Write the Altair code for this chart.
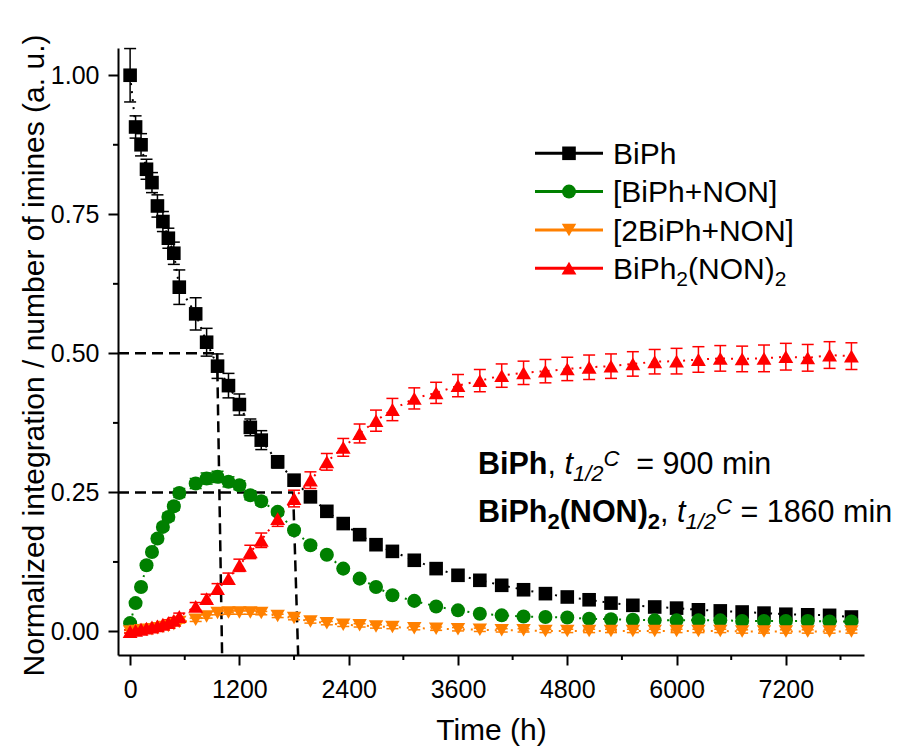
import altair as alt
import pandas as pd

# ---------------- data ----------------
times = [0, 60, 120, 180, 240, 300, 360, 420, 480, 540,
         720, 840, 960, 1080, 1200, 1320, 1440,
         1620, 1800, 1980, 2160, 2340, 2520, 2700, 2880,
         3120, 3360, 3600, 3840, 4080, 4320, 4560, 4800, 5040, 5280, 5520,
         5760, 6000, 6240, 6480, 6720, 6960, 7200, 7440, 7680, 7920]

black = [1.000, 0.907, 0.875, 0.831, 0.807, 0.765, 0.737, 0.707, 0.680, 0.619,
         0.571, 0.520, 0.477, 0.442, 0.408, 0.367, 0.344,
         0.305, 0.272, 0.242, 0.216, 0.194, 0.174, 0.156, 0.144,
         0.128, 0.113, 0.101, 0.092, 0.083, 0.075, 0.068, 0.062, 0.057, 0.051, 0.047,
         0.044, 0.042, 0.039, 0.037, 0.035, 0.033, 0.031, 0.030, 0.029, 0.026]
black_err = [0.048, 0.020, 0.020, 0.018, 0.018, 0.020, 0.018, 0.018, 0.020, 0.031,
             0.029, 0.025, 0.022, 0.022, 0.019, 0.015, 0.017,
             0.011, 0.008, 0.007, 0.006, 0.005, 0.005, 0.004, 0.004,
             0.004, 0.003, 0.003, 0.003, 0.003, 0.003, 0.003, 0.003, 0.003, 0.003, 0.003,
             0.003, 0.003, 0.003, 0.003, 0.003, 0.003, 0.003, 0.003, 0.003, 0.003]

green = [0.015, 0.051, 0.080, 0.119, 0.143, 0.167, 0.188, 0.206, 0.225, 0.249,
         0.266, 0.275, 0.278, 0.269, 0.263, 0.245, 0.234,
         0.215, 0.182, 0.155, 0.138, 0.113, 0.095, 0.080, 0.065,
         0.055, 0.045, 0.038, 0.032, 0.029, 0.027, 0.026, 0.025, 0.023, 0.022, 0.021,
         0.020, 0.020, 0.020, 0.020, 0.019, 0.019, 0.019, 0.019, 0.018, 0.018]
green_err = [0.004, 0.004, 0.005, 0.005, 0.006, 0.006, 0.006, 0.007, 0.007, 0.008,
             0.009, 0.010, 0.010, 0.009, 0.008, 0.008, 0.007,
             0.006, 0.005, 0.005, 0.004, 0.004, 0.004, 0.004, 0.004,
             0.003, 0.003, 0.003, 0.003, 0.003, 0.003, 0.003, 0.003, 0.003, 0.003, 0.003,
             0.003, 0.003, 0.003, 0.003, 0.003, 0.003, 0.003, 0.003, 0.003, 0.003]

orange = [0.000, 0.001, 0.002, 0.003, 0.004, 0.006, 0.008, 0.010, 0.013, 0.017,
          0.021, 0.027, 0.033, 0.034, 0.034, 0.034, 0.033,
          0.028, 0.024, 0.018, 0.015, 0.012, 0.011, 0.009, 0.008,
          0.006, 0.005, 0.004, 0.003, 0.002, 0.002, 0.001, 0.001, 0.001, 0.001, 0.001,
          0.001, 0.001, 0.001, 0.001, 0.000, 0.000, 0.000, 0.000, 0.000, 0.000]
orange_err = [0.002] * 10 + [0.003] * 36

red = [0.000, 0.002, 0.004, 0.006, 0.008, 0.010, 0.013, 0.016, 0.020, 0.027,
       0.045, 0.059, 0.077, 0.095, 0.119, 0.143, 0.164,
       0.203, 0.239, 0.272, 0.305, 0.331, 0.356, 0.379, 0.399,
       0.419, 0.429, 0.442, 0.451, 0.460, 0.465, 0.468, 0.472, 0.475, 0.477, 0.481,
       0.485, 0.486, 0.489, 0.491, 0.490, 0.491, 0.494, 0.492, 0.497, 0.495]
red_err = [0.003, 0.003, 0.003, 0.003, 0.003, 0.004, 0.004, 0.005, 0.005, 0.006,
           0.007, 0.008, 0.009, 0.010, 0.011, 0.012, 0.013,
           0.014, 0.015, 0.015, 0.015, 0.016, 0.017, 0.019, 0.020,
           0.019, 0.019, 0.020, 0.020, 0.021, 0.021, 0.021, 0.021, 0.022, 0.022, 0.022,
           0.022, 0.023, 0.023, 0.023, 0.023, 0.024, 0.024, 0.024, 0.024, 0.024]

series_names = ["BiPh", "[BiPh+NON]", "[2BiPh+NON]", "BiPh2(NON)2"]
series_colors = ["#000000", "#008000", "#ff8000", "#ff0000"]
series_shapes = ["square", "circle", "triangle-down", "triangle-up"]
series_sizes = [185, 220, 280, 280]

x_major = [0, 1200, 2400, 3600, 4800, 6000, 7200]
x_minor = [600, 1800, 3000, 4200, 5400, 6600, 7800]
y_major = [0.0, 0.25, 0.50, 0.75, 1.00]
y_minor = [0.125, 0.375, 0.625, 0.875]

# half-life guide lines
half_level = [0.50, 0.25]
half_t_top = [955, 1790]
half_t_bottom = [1010, 1845]

X_DOMAIN = [-133, 8058]
Y_DOMAIN = [-0.0423, 1.049]

# ---------------- tables ----------------
rows = []
for name, vals, errs in zip(series_names, [black, green, orange, red],
                            [black_err, green_err, orange_err, red_err]):
    for t, v, e in zip(times, vals, errs):
        rows.append({"series": name, "t": t, "v": v, "lo": v - e, "hi": v + e})
df = pd.DataFrame(rows)

half_df = pd.DataFrame({"lvl": half_level, "t1": half_t_top, "t2": half_t_bottom,
                        "xmin": [X_DOMAIN[0]] * 2, "ymin": [Y_DOMAIN[0]] * 2})

FONT = "Liberation Sans"
W, H = 746, 607
X0, Y0 = 118, 48

xs = alt.Scale(domain=X_DOMAIN, nice=False, zero=False)
ys = alt.Scale(domain=Y_DOMAIN, nice=False, zero=False)
cs = alt.Scale(domain=series_names, range=series_colors)
ss = alt.Scale(domain=series_names, range=series_shapes)
zs = alt.Scale(domain=series_names, range=series_sizes)

x_axis = alt.Axis(values=x_major, format="d", title="Time (h)", tickSize=10,
                  labelBaseline="alphabetic", labelPadding=32, labelFontSize=25,
                  labelFlush=False, labelOverlap=False,
                  titleFontSize=30, titleFontWeight="normal", titleX=W / 2, titleY=84,
                  titleBaseline="alphabetic", titleAlign="center")
y_axis = alt.Axis(values=y_major, format=".2f",
                  title="Normalized integration / number of imines (a. u.)",
                  tickSize=10, labelPadding=9, labelFontSize=25, labelFlush=False,
                  labelOverlap=False, titleFontSize=30, titleFontWeight="normal",
                  titleX=-75, titleY=307, titleBaseline="alphabetic", titleAlign="center",
                  titleAngle=270)


def X(field):
    return alt.X(field, scale=xs, axis=x_axis)


def Y(field):
    return alt.Y(field, scale=ys, axis=y_axis)


base = alt.Chart(df)
color = alt.Color("series:N", scale=cs, legend=None)

guide_h = alt.Chart(half_df).mark_rule(color="black", strokeWidth=2.5, strokeDash=[11, 6]).encode(
    x=X("xmin:Q"), x2="t1:Q", y=Y("lvl:Q"))
guide_v = alt.Chart(half_df).mark_rule(color="black", strokeWidth=2.5, strokeDash=[11, 6]).encode(
    x=X("t1:Q"), x2="t2:Q", y=Y("lvl:Q"), y2="ymin:Q")

lines = base.mark_line(strokeDash=[2, 6], strokeWidth=2).encode(
    x=X("t:Q"), y=Y("v:Q"), color=color, order="t:Q")

err = base.mark_rule(strokeWidth=1.5).encode(
    x=X("t:Q"), y=Y("lo:Q"), y2="hi:Q", color=color)
cap_lo = base.mark_rule(strokeWidth=1.5, xOffset=-6, x2Offset=6).encode(
    x=X("t:Q"), x2="t:Q", y=Y("lo:Q"), color=color)
cap_hi = base.mark_rule(strokeWidth=1.5, xOffset=-6, x2Offset=6).encode(
    x=X("t:Q"), x2="t:Q", y=Y("hi:Q"), color=color)

points = base.mark_point(filled=True, opacity=1, strokeWidth=0).encode(
    x=X("t:Q"), y=Y("v:Q"),
    color=color, shape=alt.Shape("series:N", scale=ss, legend=None),
    size=alt.Size("series:N", scale=zs, legend=None))

minor_x = alt.Chart(pd.DataFrame({"m": x_minor})).mark_rule(color="black", strokeWidth=2).encode(
    x=X("m:Q"), y=alt.value(H), y2=alt.value(H + 5))
minor_y = alt.Chart(pd.DataFrame({"m": y_minor})).mark_rule(color="black", strokeWidth=2).encode(
    y=Y("m:Q"), x=alt.value(0), x2=alt.value(-5))

# ---------------- legend (line + marker + label) ----------------
LEG_Y0, LEG_DY = 153.3, 38.3
leg_df = pd.DataFrame({"series": series_names, "row": list(range(len(series_names)))})
leg_base = alt.Chart(leg_df).transform_calculate(
    ly=f"{LEG_Y0 - Y0} + {LEG_DY} * datum.row")
leg_line = leg_base.mark_rule(strokeWidth=3).encode(
    x=alt.value(535 - X0), x2=alt.value(603 - X0), y=alt.Y("ly:Q", scale=None), color=color)
leg_pt = leg_base.mark_point(filled=True, opacity=1, strokeWidth=0).encode(
    x=alt.value(569 - X0), y=alt.Y("ly:Q", scale=None), color=color,
    shape=alt.Shape("series:N", scale=ss, legend=None),
    size=alt.Size("series:N", scale=zs, legend=None))

# ---------------- rich text helpers ----------------
REG = {" ": 278, ",": 278, ".": 278, "/": 278, "(": 333, ")": 333, "[": 278, "]": 278,
       "+": 584, "=": 584, "B": 667, "C": 722, "N": 722, "O": 778, "P": 667, "h": 556,
       "i": 222, "m": 833, "n": 556, "t": 278}
BOLD = {" ": 278, ",": 278, "(": 333, ")": 333, "B": 722, "C": 722, "N": 722, "O": 778,
        "P": 667, "h": 611, "i": 278}


def adv(ch, bold):
    tbl = BOLD if bold else REG
    if ch.isdigit():
        return 556
    return tbl.get(ch, 556)


def layout(pieces, x0, y0):
    out = []
    x = x0
    for text, size, weight, style, dy in pieces:
        bold = weight == "bold"
        stripped = text.lstrip(" ")
        lead = (len(text) - len(stripped)) * adv(" ", bold) * size / 1000
        out.append(dict(text=stripped.rstrip(" "), x=x + lead, y=y0 + dy,
                        size=size, weight=weight, style=style))
        x += sum(adv(c, bold) for c in text) * size / 1000
    return out


def text_layers(items):
    layers = []
    for p in items:
        layers.append(
            alt.Chart(alt.Data(values=[{}])).mark_text(
                text=p["text"], font=FONT, fontSize=p["size"], fontWeight=p["weight"],
                fontStyle=p["style"], align="left", baseline="alphabetic", color="black"
            ).encode(x=alt.value(p["x"] - X0), y=alt.value(p["y"] - Y0)))
    return layers


LF, LS = 30, 21
leg_pieces = [
    [("BiPh", LF, "normal", "normal", 0)],
    [("[BiPh+NON]", LF, "normal", "normal", 0)],
    [("[2BiPh+NON]", LF, "normal", "normal", 0)],
    [("BiPh", LF, "normal", "normal", 0), ("2", LS, "normal", "normal", 7),
     ("(NON)", LF, "normal", "normal", 0), ("2", LS, "normal", "normal", 7)],
]
leg_items = []
for i, pcs in enumerate(leg_pieces):
    leg_items += layout(pcs, 613, LEG_Y0 + LEG_DY * i + 0.358 * LF)

F, S = 30.5, 22
ann1 = [("BiPh", F, "bold", "normal", 0), (", ", F, "normal", "normal", 0),
        ("t", F, "normal", "italic", 0), ("1/2", S, "normal", "italic", 7),
        ("C", S, "normal", "italic", -8), ("  = 900 min", F, "normal", "normal", 0)]
ann2 = [("BiPh", F, "bold", "normal", 0), ("2", S, "bold", "normal", 7),
        ("(NON)", F, "bold", "normal", 0), ("2", S, "bold", "normal", 7),
        (", ", F, "normal", "normal", 0), ("t", F, "normal", "italic", 0),
        ("1/2", S, "normal", "italic", 7), ("C", S, "normal", "italic", -8),
        (" = 1860 min", F, "normal", "normal", 0)]
ann_items = layout(ann1, 478, 473.5) + layout(ann2, 478, 521.7)

chart = alt.layer(
    guide_h, guide_v, lines, err, cap_lo, cap_hi, points, minor_x, minor_y,
    leg_line, leg_pt, *text_layers(leg_items), *text_layers(ann_items)
).properties(
    width=W, height=H,
    padding={"left": X0, "top": Y0, "right": 903 - X0 - W, "bottom": 747 - Y0 - H},
    autosize=alt.AutoSizeParams(type="none"),
    background="white",
).configure_view(stroke=None).configure_axis(
    grid=False, domainColor="black", domainWidth=2, tickColor="black", tickWidth=2,
    labelColor="black", titleColor="black", labelFont=FONT, titleFont=FONT,
)

chart.save("out.html", embed_options={"renderer": "svg", "actions": False})
